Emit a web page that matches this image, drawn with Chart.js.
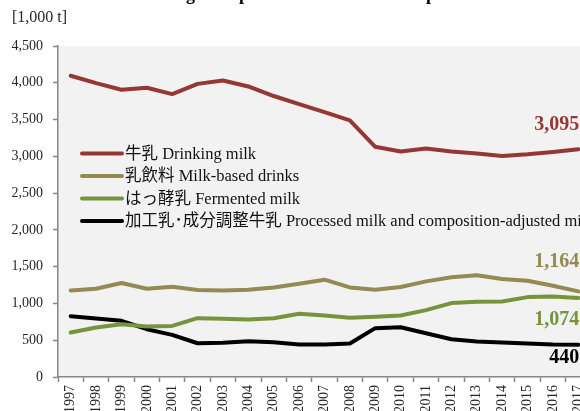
<!DOCTYPE html>
<html>
<head>
<meta charset="utf-8">
<script src="https://cdn.jsdelivr.net/npm/chart.js@4/dist/chart.umd.min.js"></script>
<style>
  html, body { margin: 0; padding: 0; background: #fff; overflow: hidden; width: 580px; height: 411px; }
  #wrap { position: relative; width: 600px; height: 411px; }
</style>
</head>
<body>
<div id="wrap"><canvas id="milkChart"></canvas></div>
<script>
const years = ['1997', '1998', '1999', '2000', '2001', '2002', '2003', '2004', '2005', '2006', '2007',
  '2008', '2009', '2010', '2011', '2012', '2013', '2014', '2015', '2016', '2017'];

const drinkingMilk = [4095, 3995, 3905, 3932, 3845, 3985, 4030, 3950, 3820, 3710, 3600,
  3490, 3130, 3065, 3105, 3065, 3040, 3005, 3027, 3060, 3095];
const milkBasedDrinks = [1177, 1200, 1277, 1200, 1227, 1182, 1177, 1186, 1218, 1268, 1323,
  1218, 1186, 1223, 1300, 1355, 1382, 1332, 1309, 1241, 1164];
const fermentedMilk = [604, 673, 718, 686, 695, 800, 791, 782, 800, 859, 836,
  805, 818, 836, 909, 1005, 1023, 1027, 1086, 1095, 1074];
const processedMilk = [827, 795, 764, 650, 573, 459, 464, 486, 473, 441, 441,
  455, 664, 677, 595, 514, 482, 468, 455, 441, 440];

const seriesLabels = [
  '牛乳 Drinking milk',
  '乳飲料 Milk-based drinks',
  'はっ酵乳 Fermented milk',
  '加工乳･成分調整牛乳 Processed milk and composition-adjusted milk'
];

const yTicks = [0, 500, 1000, 1500, 2000, 2500, 3000, 3500, 4000, 4500];

const serif = '"Liberation Serif", "Times New Roman", "Noto Sans CJK JP", serif';
const axisGrey = '#868686';
const textColor = '#262626';

// grey plot area, like the spreadsheet original
const plotBackground = {
  id: 'plotBackground',
  beforeDraw(chart) {
    const { ctx, chartArea: a } = chart;
    ctx.save();
    ctx.fillStyle = '#f2f2f2';
    ctx.fillRect(a.left, a.top, a.right - a.left, a.bottom - a.top);
    ctx.restore();
  }
};

// title (mostly cut off at the top) and the unit note
const headerText = {
  id: 'headerText',
  afterDraw(chart) {
    const ctx = chart.ctx;
    ctx.save();
    ctx.fillStyle = '#000';
    ctx.font = 'bold 18px ' + serif;
    ctx.textAlign = 'center';
    ctx.textBaseline = 'alphabetic';
    ctx.fillText('Drinking milk production volume in Japan', 290, 0);
    ctx.fillStyle = textColor;
    ctx.font = '16px ' + serif;
    ctx.textAlign = 'left';
    ctx.textBaseline = 'middle';
    ctx.fillText('[1,000 t]', 12, 18);
    ctx.restore();
  }
};

// legend sits inside the plot area
const insideLegend = {
  id: 'insideLegend',
  afterDatasetsDraw(chart) {
    const ctx = chart.ctx;
    ctx.save();
    chart.data.datasets.forEach((ds, i) => {
      const y = 153.5 + i * 22.5;
      ctx.strokeStyle = ds.borderColor;
      ctx.lineWidth = 4;
      ctx.lineCap = 'round';
      ctx.beginPath();
      ctx.moveTo(82, y);
      ctx.lineTo(122, y);
      ctx.stroke();
      ctx.fillStyle = '#111';
      ctx.font = '16.5px ' + serif;
      ctx.textAlign = 'left';
      ctx.textBaseline = 'middle';
      ctx.fillText(ds.label, 125, y + 1);
    });
    ctx.restore();
  }
};

// value labels on the last year of each line
const labelShift = [-25, -30, 22, 13];
const lastValueLabels = {
  id: 'lastValueLabels',
  afterDatasetsDraw(chart) {
    const ctx = chart.ctx;
    ctx.save();
    ctx.font = 'bold 20px ' + serif;
    ctx.textAlign = 'right';
    ctx.textBaseline = 'middle';
    chart.data.datasets.forEach((ds, i) => {
      const meta = chart.getDatasetMeta(i);
      const pt = meta.data[meta.data.length - 1];
      const v = ds.data[ds.data.length - 1];
      ctx.fillStyle = ds.borderColor;
      ctx.fillText(v.toLocaleString('en-US'), pt.x + 1, pt.y + labelShift[i]);
    });
    ctx.restore();
  }
};

const ctx = document.getElementById('milkChart').getContext('2d');

const milkChart = new Chart(ctx, {
  type: 'line',
  data: {
    labels: years,
    datasets: [{
      label: seriesLabels[0],
      data: drinkingMilk,
      borderColor: '#953735',
      backgroundColor: '#953735'
    },
    {
      label: seriesLabels[1],
      data: milkBasedDrinks,
      borderColor: '#948a54',
      backgroundColor: '#948a54'
    },
    {
      label: seriesLabels[2],
      data: fermentedMilk,
      borderColor: '#77933c',
      backgroundColor: '#77933c'
    },
    {
      label: seriesLabels[3],
      data: processedMilk,
      borderColor: '#000000',
      backgroundColor: '#000000'
    }]
  },
  options: {
    responsive: true,
    maintainAspectRatio: false,
    animation: false,
    layout: {
      padding: { top: 46, right: 9, left: 0, bottom: 0 }
    },
    elements: {
      line: { borderWidth: 4, tension: 0, borderJoinStyle: 'round', borderCapStyle: 'round' },
      point: { radius: 0, hoverRadius: 0 }
    },
    scales: {
      x: {
        offset: true,
        grid: {
          offset: true,
          drawOnChartArea: false,
          tickLength: 5,
          tickColor: axisGrey,
          tickWidth: 1.5
        },
        border: { color: axisGrey, width: 1.5 },
        ticks: {
          autoSkip: false,
          minRotation: 90,
          maxRotation: 90,
          padding: 3,
          color: textColor,
          font: { family: serif, size: 14 }
        },
        afterFit(scale) { scale.height = 34; }
      },
      y: {
        min: 0,
        max: 4500,
        afterBuildTicks(scale) {
          scale.ticks = yTicks.map(v => ({ value: v }));
        },
        grid: {
          drawOnChartArea: false,
          tickLength: 5,
          tickColor: axisGrey,
          tickWidth: 1.5
        },
        border: { color: axisGrey, width: 1.5 },
        ticks: {
          padding: 10,
          color: textColor,
          font: { family: serif, size: 14 },
          callback: v => v.toLocaleString('en-US')
        },
        afterFit(scale) { scale.width = 58; }
      }
    },
    plugins: {
      legend: { display: false },
      tooltip: { enabled: false }
    }
  },
  plugins: [plotBackground, insideLegend, lastValueLabels, headerText]
});
</script>
</body>
</html>
